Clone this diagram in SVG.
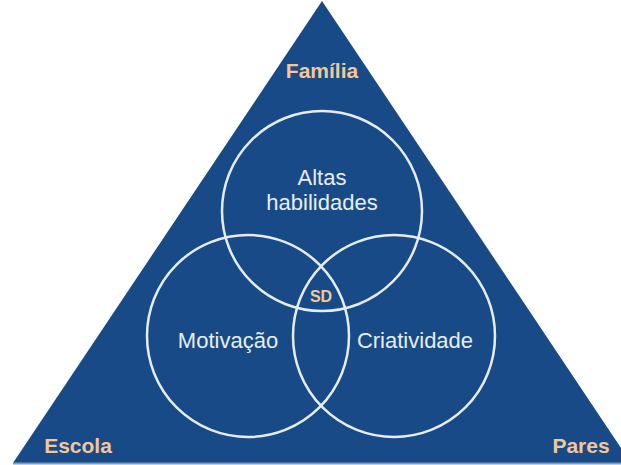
<svg xmlns="http://www.w3.org/2000/svg" width="621" height="465" viewBox="0 0 621 465">
<style>
.ring{fill:none;stroke:#e6ecf4;stroke-width:2.5}
.lbl{font-family:"Liberation Sans",Arial,sans-serif;font-size:22px;fill:#e8eef7;text-anchor:middle}
.ctx{font-family:"Liberation Sans",Arial,sans-serif;font-size:21px;font-weight:bold;fill:#f1c89c;text-anchor:middle}
</style>
<rect width="621" height="465" fill="#ffffff"/>
<g id="triangle">
<polygon points="322,1 631,463 13,463" fill="#174a86"/>
<line x1="13" y1="463.5" x2="621" y2="463.5" stroke="#7d9cc6" stroke-width="2"/>
</g>
<g id="familia"><text class="ctx" x="322" y="78">Família</text></g>
<g id="escola"><text class="ctx" x="78" y="453">Escola</text></g>
<g id="pares"><text class="ctx" x="581" y="453">Pares</text></g>
<g id="altas">
<circle class="ring" cx="322" cy="211" r="100"/>
<text class="lbl" x="322" y="185">Altas</text>
<text class="lbl" x="322" y="210">habilidades</text>
</g>
<g id="motivacao">
<circle class="ring" cx="248" cy="336" r="101"/>
<text class="lbl" x="228" y="348">Motivação</text>
</g>
<g id="criatividade">
<circle class="ring" cx="394" cy="336" r="101"/>
<text class="lbl" x="415" y="348">Criatividade</text>
</g>
<g id="sd"><text class="ctx" x="321" y="302" style="font-size:16px">SD</text></g>
</svg>
